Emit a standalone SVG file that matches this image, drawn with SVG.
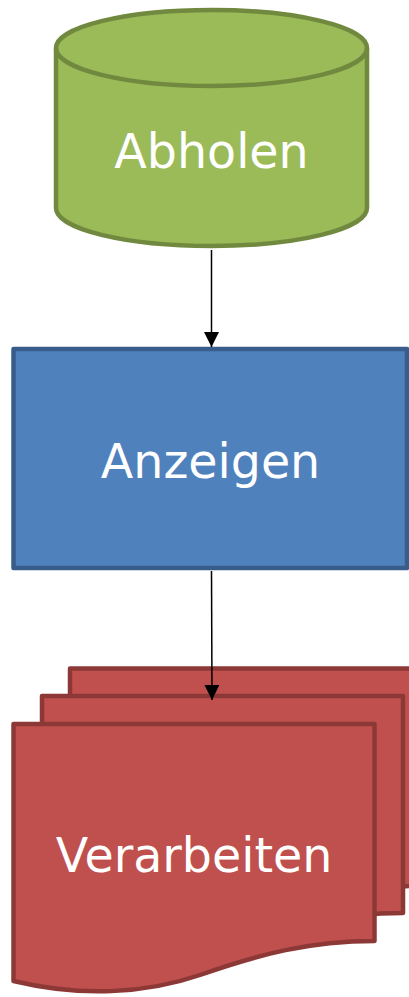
<svg xmlns="http://www.w3.org/2000/svg" width="409" height="997" viewBox="0 0 409 997">
  <defs>
    <style>
      .lbl { font-family: "DejaVu Sans", Verdana, sans-serif; font-size: 47.5px; fill: #ffffff; text-anchor: middle; }
      .edge { stroke: #000000; stroke-width: 1.5; fill: none; }
      .doc { fill: #C0504D; stroke: #8C3836; stroke-width: 4.5; stroke-linejoin: round; }
    </style>
    <marker id="arr" viewBox="0 0 15 15" markerWidth="15" markerHeight="15" refX="15" refY="7.5" orient="auto" markerUnits="userSpaceOnUse">
      <path d="M0,0 L15,7.5 L0,15 Z" fill="#000000"/>
    </marker>
    <path id="docShape" d="M13.5,724 H374.5 V941 C310,941 260,954 200,975 C145,994 80,997 13.5,981 Z"/>
  </defs>

  <g id="abholen">
    <path d="M56,48 A155.5,38 0 0 1 367,48 V208 A155.5,38 0 0 1 56,208 Z" fill="#9BBB59" stroke="#71893F" stroke-width="4.5"/>
    <path d="M56,48 A155.5,38 0 0 0 367,48" fill="none" stroke="#71893F" stroke-width="4.5"/>
    <text class="lbl" x="211.5" y="168">Abholen</text>
  </g>

  <g id="anzeigen">
    <rect x="13.5" y="349" width="393.5" height="219" fill="#4F81BD" stroke="#385D8A" stroke-width="4.5" stroke-linejoin="round"/>
    <text class="lbl" x="210.5" y="478">Anzeigen</text>
  </g>

  <g id="verarbeiten">
    <use href="#docShape" class="doc" transform="translate(56.5,-55.5)"/>
    <use href="#docShape" class="doc" transform="translate(28.5,-28)"/>
    <use href="#docShape" class="doc"/>
    <text class="lbl" x="194" y="872">Verarbeiten</text>
  </g>

  <g id="connectors">
    <line class="edge" x1="211.5" y1="250" x2="211.5" y2="347" marker-end="url(#arr)"/>
    <line class="edge" x1="211.5" y1="571" x2="212" y2="700" marker-end="url(#arr)"/>
  </g>
</svg>
